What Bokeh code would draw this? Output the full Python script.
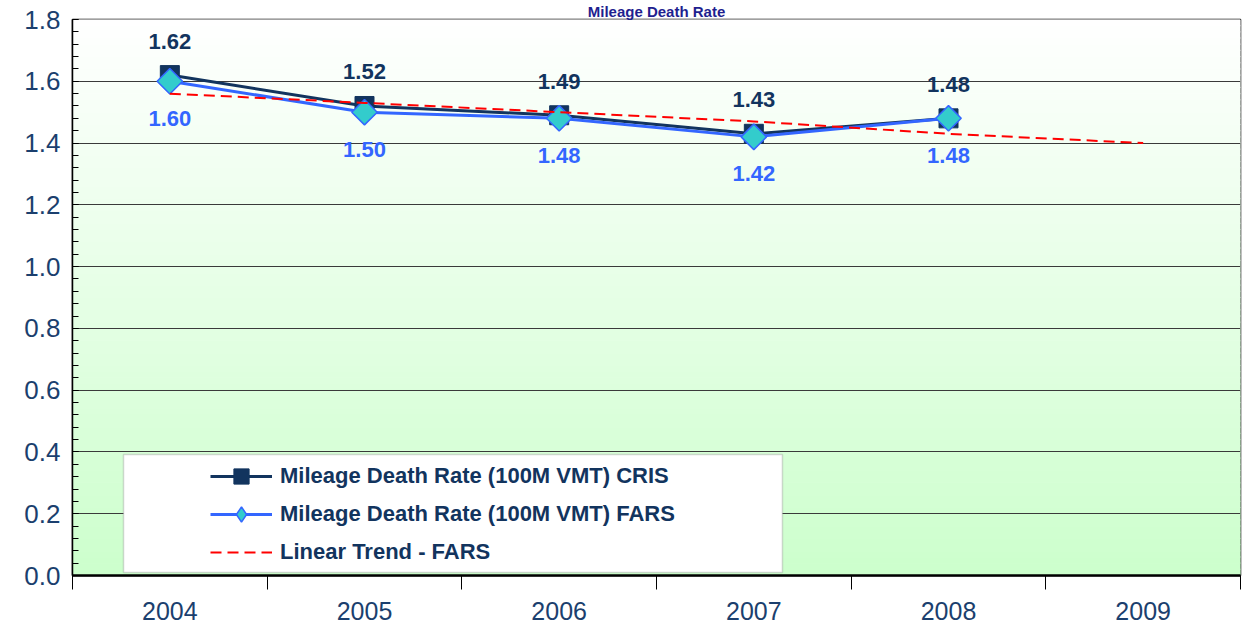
import numpy as np
from bokeh.plotting import figure
from bokeh.models import (Range1d, FixedTicker, PrintfTickFormatter, ColumnDataSource,
                          LabelSet, Legend, LegendItem, BoxAnnotation)
from bokeh.core.properties import value
from bokeh.embed import file_html
from bokeh.resources import INLINE

# ---- data ----
years = ["2004", "2005", "2006", "2007", "2008", "2009"]
cris_years = ["2004", "2005", "2006", "2007", "2008"]
cris = [1.62, 1.52, 1.49, 1.43, 1.48]
fars = [1.60, 1.50, 1.48, 1.42, 1.48]
trend = [1.56, 1.53, 1.50, 1.47, 1.43, 1.40]
y_ticks = [0.0, 0.2, 0.4, 0.6, 0.8, 1.0, 1.2, 1.4, 1.6, 1.8]
title_text = "Mileage Death Rate"
legend_labels = ["Mileage Death Rate (100M VMT) CRIS",
                 "Mileage Death Rate (100M VMT) FARS",
                 "Linear Trend - FARS"]

FONT = "Liberation Sans"
NAVY = "#12345E"
BLUE = "#3366FF"
TICK_COL = "#1B3F6E"

# category centres on a numeric axis
pos = {y: i + 0.5 for i, y in enumerate(years)}
x_series = [pos[y] for y in cris_years]
x_trend = [pos[y] for y in years]

p = figure(width=1242, height=625, output_backend="svg", toolbar_location=None,
           title=title_text,
           x_range=Range1d(0, len(years)), y_range=Range1d(y_ticks[0], y_ticks[-1]),
           min_border_left=72, min_border_right=2, min_border_top=18, min_border_bottom=50)
p.title.align = "center"
p.title.text_font = FONT
p.title.text_font_size = "15px"
p.title.text_font_style = "bold"
p.title.text_color = "#1F1F8F"
p.title.standoff = 0
p.title.offset = 0
p.background_fill_color = "white"
p.border_fill_color = "white"
p.outline_line_color = "black"
p.outline_line_width = 1.5

# background gradient (white at top -> light green at bottom)
n = 90
edges = np.linspace(y_ticks[0], y_ticks[-1], n + 1)
fr = (edges[:-1] + edges[1:]) / 2 / y_ticks[-1]
cols = []
for f in fr:
    r = int(round(0xCC + (0xFF - 0xCC) * f))
    cols.append("#%02X%02X%02X" % (r, 255, r))
bg = ColumnDataSource(dict(b=edges[:-1], t=edges[1:], c=cols))
p.quad(left=0, right=len(years), bottom="b", top="t", fill_color="c", line_color="c",
       line_width=1, source=bg, level="image")

# grid
p.xgrid.visible = False
p.ygrid.ticker = FixedTicker(ticks=y_ticks)
p.ygrid.grid_line_color = "#3A3A3A"
p.ygrid.grid_line_width = 1

# y axis
ya = p.yaxis[0]
minor_y = [round(i * 0.04, 2) for i in range(46)]
ya.ticker = FixedTicker(ticks=y_ticks, minor_ticks=minor_y)
ya.formatter = PrintfTickFormatter(format="%.1f")
ya.major_label_text_font = FONT
ya.major_label_text_font_size = "26px"
ya.major_label_text_color = TICK_COL
ya.major_tick_in = 6
ya.major_tick_out = 0
ya.minor_tick_in = 6
ya.minor_tick_out = 0
ya.major_label_standoff = 12
ya.axis_line_color = "black"
ya.axis_line_width = 1.5

# x axis
xa = p.xaxis[0]
xa.ticker = FixedTicker(ticks=x_trend, minor_ticks=list(range(len(years) + 1)))
xa.major_label_overrides = {pos[y]: y for y in years}
xa.major_label_text_font = FONT
xa.major_label_text_font_size = "25px"
xa.major_label_text_color = TICK_COL
xa.major_tick_line_color = None
xa.major_tick_out = 0
xa.major_tick_in = 0
xa.minor_tick_in = 0
xa.minor_tick_out = 14
xa.minor_tick_line_color = "black"
xa.major_label_standoff = 12
xa.axis_line_color = "black"
xa.axis_line_width = 2.5

# series
src = ColumnDataSource(dict(x=x_series, cris=cris, fars=fars,
                            cris_t=["%.2f" % v for v in cris],
                            fars_t=["%.2f" % v for v in fars]))
tsrc = ColumnDataSource(dict(x=x_trend, y=trend))

l_cris = p.line("x", "cris", source=src, line_color=NAVY, line_width=3)
m_cris = p.scatter("x", "cris", source=src, marker="square", size=19,
                   fill_color=NAVY, line_color=NAVY)
l_fars = p.line("x", "fars", source=src, line_color=BLUE, line_width=3)
m_fars = p.scatter("x", "fars", source=src, marker="square", size=18, angle=np.pi / 4,
                   fill_color="#33CCCC", line_color=BLUE, line_width=1.5)
l_tr = p.line("x", "y", source=tsrc, line_color="#FF0000", line_width=2, line_dash="11 6")

# legend-only diamond (legend glyphs ignore marker angle)
leg_src = ColumnDataSource(dict(x=[np.nan], y=[np.nan]))
m_leg = p.scatter("x", "y", source=leg_src, marker="diamond", size=18,
                  fill_color="#33CCCC", line_color=BLUE, line_width=1.5)

# value labels
p.add_layout(LabelSet(x="x", y="cris", text="cris_t", source=src, y_offset=34,
                      text_align="center", text_baseline="middle", text_font=value(FONT),
                      text_font_size="22px", text_font_style="bold", text_color=NAVY))
p.add_layout(LabelSet(x="x", y="fars", text="fars_t", source=src, y_offset=-37,
                      text_align="center", text_baseline="middle", text_font=value(FONT),
                      text_font_size="22px", text_font_style="bold", text_color=BLUE))

# legend box
p.add_layout(BoxAnnotation(left=0.262, right=3.647, bottom=0.01, top=0.392,
                           fill_color="white", fill_alpha=1.0,
                           line_color="#7F7F7F", line_width=1.5))

legend = Legend(items=[
    LegendItem(label=legend_labels[0], renderers=[l_cris, m_cris]),
    LegendItem(label=legend_labels[1], renderers=[l_fars, m_leg]),
    LegendItem(label=legend_labels[2], renderers=[l_tr]),
], location=(138, 4), orientation="vertical")
legend.background_fill_alpha = 0
legend.border_line_color = None
legend.padding = 0
legend.margin = 0
legend.spacing = 0
legend.glyph_width = 62
legend.glyph_height = 38
legend.label_height = 38
legend.label_standoff = 8
legend.label_text_font = FONT
legend.label_text_font_size = "22px"
legend.label_text_font_style = "bold"
legend.label_text_color = NAVY
p.add_layout(legend, "center")

open("out.html", "w").write(file_html(p, INLINE))
